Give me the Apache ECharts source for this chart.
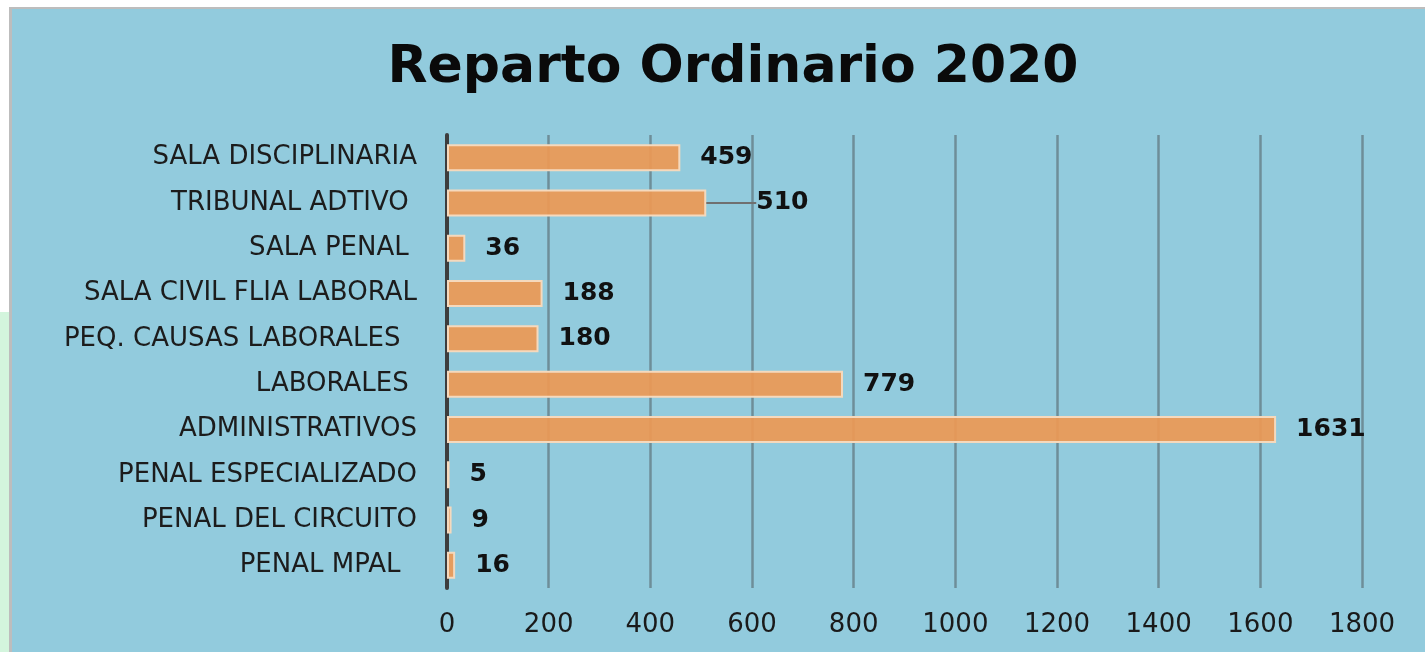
<!DOCTYPE html>
<html>
<head>
<meta charset="utf-8">
<script src="https://cdn.jsdelivr.net/npm/echarts@6/dist/echarts.min.js"></script>
<style>
  body { margin: 0; background: #fff; width: 1425px; height: 652px; overflow: hidden; position: relative; }
  #strip { position: absolute; left: 0; top: 312px; width: 9px; height: 340px; background: #d3f5dd; }
  #frame { position: absolute; left: 9px; top: 7px; border-top: 2px solid #bdbdbd; border-left: 3px solid #bdbdbd; }
  #main { width: 1413px; height: 643px; background: #92cbdd; }
</style>
</head>
<body>
<div id="strip"></div>
<div id="frame"><div id="main"></div></div>
<script>
// categorias de arriba hacia abajo
var categories = ['SALA DISCIPLINARIA', 'TRIBUNAL ADTIVO ', 'SALA PENAL ', 'SALA CIVIL FLIA LABORAL',
    'PEQ. CAUSAS LABORALES  ', 'LABORALES ', 'ADMINISTRATIVOS', 'PENAL ESPECIALIZADO',
    'PENAL DEL CIRCUITO', 'PENAL MPAL  '];
var values = [459, 510, 36, 188, 180, 779, 1631, 5, 9, 16];
var xTicks = [0, 1800, 200];

var myChart = echarts.init(document.getElementById('main'));

var barData = values.map(function (v, i) {
    // solo la barra de 510 lleva linea guia
    return { value: v, labelLine: { show: i === 1 } };
});

option = {
    title: {
        text: 'Reparto Ordinario 2020',
        left: 716,
        textAlign: 'center',
        top: 28,
        textStyle: {
            fontFamily: 'DejaVu Sans',
            fontWeight: 'bold',
            fontSize: 52,
            color: '#0a0a0a'
        }
    },
    grid: {
        left: 435,
        right: 63,
        top: 126,
        bottom: 64
    },
    xAxis: {
        type: 'value',
        min: xTicks[0],
        max: xTicks[1],
        interval: xTicks[2],
        axisLine: { show: false },
        axisTick: { show: false },
        axisLabel: {
            margin: 24,
            fontFamily: 'DejaVu Sans',
            fontSize: 26,
            color: '#1a1a1a',
            formatter: function (v) { return String(v); }
        },
        splitLine: {
            show: true,
            lineStyle: { color: '#6e8e98', width: 2.5 }
        }
    },
    yAxis: {
        type: 'category',
        inverse: true,
        data: categories,
        axisLine: {
            show: true,
            lineStyle: { color: '#3d3d3d', width: 4 }
        },
        axisTick: { show: false },
        axisLabel: {
            margin: 30,
            fontFamily: 'DejaVu Sans',
            fontSize: 26,
            color: '#1c1c1c'
        }
    },
    series: [{
        type: 'bar',
        data: barData,
        barWidth: 27,
        itemStyle: {
            color: 'rgba(237,153,84,0.92)',
            borderColor: '#f5d9bd',
            borderWidth: 2
        },
        label: {
            show: true,
            position: 'right',
            distance: 20,
            fontFamily: 'DejaVu Sans',
            fontWeight: 'bold',
            fontSize: 25,
            color: '#111'
        },
        labelLine: {
            show: false,
            lineStyle: { color: '#707070', width: 2 }
        },
        labelLayout: function (params) {
            if (params.dataIndex === 1) {
                return { dx: 30 };
            }
            return {};
        }
    }]
};
myChart.setOption(option);
</script>
</body>
</html>
